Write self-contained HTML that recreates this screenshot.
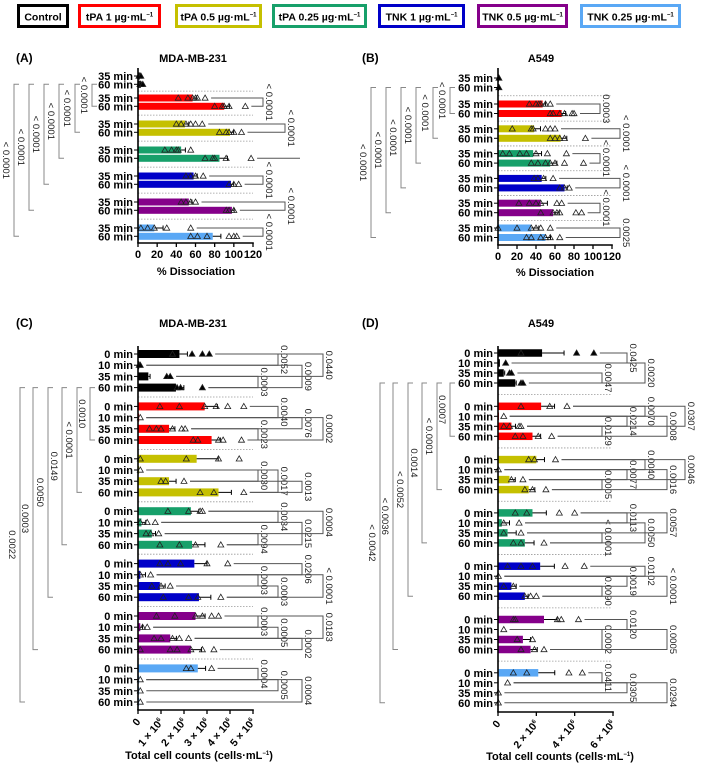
<!DOCTYPE html>
<html><head><meta charset="utf-8"><style>
html,body{margin:0;padding:0;background:#fff}
svg{display:block;font-family:"Liberation Sans",Arial,sans-serif}
</style></head><body>
<svg id="fig" width="709" height="766" viewBox="0 0 709 766" xmlns="http://www.w3.org/2000/svg"></svg>
<script>
// ---------- DATA ----------
const groupNames = ['Control','tPA 1','tPA 0.5','tPA 0.25','TNK 1','TNK 0.5','TNK 0.25'];
const groupColors = ['#000000','#ff0000','#c5c000','#17a06a','#0000c8','#85008a','#5aa8f5'];
const rowLabelsAB = ['35 min','60 min'];
const rowLabelsCD = ['0 min','10 min','35 min','60 min'];
const ticksAB = [0,20,40,60,80,100,120];
const ticksC = [0,1,2,3,4,5];
const ticksD = [0,2,4,6];

const aMeans = [[2,3],[57,90],[49,96],[45,85],[58,97],[53,98],[17,78]];
const aPoints = [
 [[1,2,3],[2,3,5]],
 [[42,52,57,60,62,70],[80,88,90,95,112]],
 [[40,45,50,55,60,67],[85,92,95,100,108]],
 [[28,35,40,42,55],[70,78,80,92,118]],
 [[50,55,60,68],[95,100,105]],
 [[45,50,55,60],[92,95,100]],
 [[3,10,17,30,55],[55,62,72,95,100,103]]];
const aLeftLabels = ['< 0.0001','< 0.0001','< 0.0001','< 0.0001','< 0.0001','< 0.0001'];
const aRight = [[1,0,1,0,'< 0.0001'],[2,0,1,1,'< 0.0001'],[3,1,1,2,''],[4,0,1,0,'< 0.0001'],[5,0,1,1,'< 0.0001'],[6,0,1,0,'< 0.0001']];

const bMeans = [[1,1],[47,67],[38,66],[37,55],[46,70],[45,58],[35,50]];
const bPoints = [
 [[1],[1]],
 [[33,40,43,45,50,55],[55,58,65,70,78,80]],
 [[15,35,37,50,55,60],[55,60,65,70,92]],
 [[5,12,23,30,40,52,72],[35,42,50,55,60,70,90]],
 [[38,42,48,58],[65,70,75]],
 [[22,33,40,45,62,67],[45,58,62,65,82,88]],
 [[0,20,35,40,45,55],[30,35,45,50,55,65]]];
const bLeftLabels = ['< 0.0001','< 0.0001','< 0.0001','< 0.0001','< 0.0001','< 0.0001'];
const bRight = [[1,0,1,0,'0.0003'],[2,0,1,1,'< 0.0001'],[3,0,1,0,'< 0.0001'],[4,0,1,1,'< 0.0001'],[5,0,1,0,'< 0.0001'],[6,0,1,1,'0.0025']];

const cMeans = [[1.8,0.05,0.45,1.65],[2.9,0.05,1.35,3.2],[2.55,0.05,1.35,3.5],[2.3,0.15,0.6,2.35],[2.45,0.1,0.95,2.65],[2.5,0.1,1.4,2.3],[2.6,0.05,0.05,0.05]];
const cPoints = [
 [[1.5,2.35,2.8,3.1],[0.05,0.1],[1.25,1.4],[1.7,1.85,2.8]],
 [[0.95,1.8,2.9,3.4,3.9,4.6],[0.1],[0.5,0.8,1.0,1.5,1.9,2.05],[2.4,2.6,3.5,3.7,4.5]],
 [[0.1,2.1,3.5,4.4],[0.1],[1.0,1.2,2.0],[2.7,3.3,4.6]],
 [[1.3,2.2,2.7,2.8],[0.1,0.4,0.75],[0.35,0.55,0.9],[0.95,1.8,2.5,3.6]],
 [[0.95,1.3,1.85,3.0,3.9],[0.1,0.55],[0.6,1.0,1.4],[1.1,2.2,2.6,3.6]],
 [[0.8,1.6,2.5,2.8,3.2,3.5],[0.2,0.4],[0.7,1.0,1.5,1.8,2.2],[0.1,1.4,1.7,2.3,2.8,3.3]],
 [[2.1,2.3,3.2],[0.1],[0.1],[0.1]]];
const cLeftLabels = ['0.0010','< 0.0001','0.0149','0.0050','0.0003','0.0022'];
const cRight = [
 [0,0,1,1,'0.0052'],[0,2,3,0,'0.0003'],[0,1,3,2,'0.0009'],[0,0,2,3,'0.0440'],
 [1,0,1,1,'0.0040'],[1,2,3,0,'0.0023'],[1,1,2,2,'0.0076'],[1,1,3,3,'0.0002'],
 [2,1,2,0,'0.0030'],[2,1,3,1,'0.0017'],[2,2,3,2,'0.0013'],
 [3,0,1,1,'0.0034'],[3,2,3,0,'0.0094'],[3,1,3,2,'0.0215'],[3,0,2,3,'0.0004'],
 [4,0,1,2,'0.0206'],[4,1,2,0,'0.0003'],[4,2,3,1,'0.0003'],[4,1,3,3,'< 0.0001'],
 [5,0,1,0,'0.0003'],[5,1,2,1,'0.0005'],[5,2,3,2,'0.0002'],[5,0,2,3,'0.0183'],
 [6,0,1,0,'0.0004'],[6,1,2,1,'0.0005'],[6,1,3,2,'0.0004']];

const dMeans = [[2.3,0.1,0.3,0.9],[2.25,0.05,0.7,1.8],[2.0,0.02,0.6,1.6],[1.8,0.2,0.5,1.4],[2.2,0.02,0.7,1.4],[2.4,0.02,1.3,1.7],[2.1,0.02,0.02,0.02]];
const dPoints = [
 [[1.2,4.1,5.0],[0.4],[0.6,0.7],[1.2,1.3]],
 [[1.2,2.7,3.6],[0.3],[0.3,0.6,1.1,1.2],[0.9,1.3,2.1,2.8]],
 [[1.6,1.9,3.0],[0.02],[0.7,1.3],[1.4,1.8,2.5]],
 [[0.9,1.5,3.2,4.0],[0.3,1.1],[0.3,1.2],[0.8,1.2,2.4]],
 [[0.5,1.2,1.8,3.5,4.5],[0.02],[0.3,0.8],[1.4,1.7,2.0]],
 [[0.8,0.9,3.1,3.3,4.2],[0.3],[1.0,1.8],[1.2,1.9,2.4]],
 [[0.8,1.5,3.7,4.4],[0.5],[0.02],[0.02]]];
const dLeftLabels = ['0.0007','< 0.0001','0.0014','< 0.0052','< 0.0036','< 0.0042'];
const dRight = [
 [0,0,1,1,'0.0425'],[0,2,3,0,'0.0047'],[0,1,3,2,'0.0020'],
 [1,2,3,0,'0.0129'],[1,1,2,1,'0.0214'],[1,0,1,2,'0.0070'],[1,1,3,3,'0.0008'],[1,0,2,4,'0.0307'],
 [2,2,3,0,'0.0005'],[2,1,2,1,'0.0077'],[2,0,1,2,'0.0040'],[2,1,3,3,'0.0016'],[2,0,2,4,'0.0046'],
 [3,2,3,0,'< 0.0001'],[3,0,1,1,'0.0113'],[3,1,3,2,'0.0050'],[3,0,2,3,'0.0057'],
 [4,2,3,0,'0.0090'],[4,1,2,1,'0.0019'],[4,0,1,2,'0.0102'],[4,1,3,3,'< 0.0001'],
 [5,1,3,0,'0.0002'],[5,0,1,1,'0.0120'],[5,1,3,3,'0.0005'],
 [6,0,1,0,'0.0411'],[6,1,2,1,'0.0305'],[6,1,3,3,'0.0294']];

// ---------- DRAWING ----------
const NS='http://www.w3.org/2000/svg';
const svg=document.getElementById('fig');
function el(tag,attrs,parent,txt){const e=document.createElementNS(NS,tag);for(const k in attrs)e.setAttribute(k,attrs[k]);if(txt!==undefined)e.textContent=txt;(parent||svg).appendChild(e);return e;}

// legend
const legendBoxes=[[17,52],[78,83],[175,87],[272,95],[378,87],[477,91],[580,101]];
const legendText=[['Control',''],['tPA 1 µg·mL','−1'],['tPA 0.5 µg·mL','−1'],['tPA 0.25 µg·mL','−1'],['TNK 1 µg·mL','−1'],['TNK 0.5 µg·mL','−1'],['TNK 0.25 µg·mL','−1']];
legendBoxes.forEach((b,i)=>{
  const g=el('g',{});
  
  
  el('rect',{x:b[0]+1.5,y:5.5,width:b[1]-3,height:21,fill:'#fff',stroke:groupColors[i],'stroke-width':3},g);
  const t=el('text',{x:b[0]+b[1]/2,y:20.5,'text-anchor':'middle','font-size':10.5,'font-weight':'bold'},g,legendText[i][0]);
  if(legendText[i][1]){el('tspan',{'font-size':6,dy:-4},t,legendText[i][1]);}
});

function semOf(p){if(p.length<2)return 0;const m=p.reduce((a,b)=>a+b,0)/p.length;const v=p.reduce((a,b)=>a+(b-m)*(b-m),0)/(p.length-1);return Math.sqrt(v/p.length);}

function panel(cfg){
  const G=el('g',{});
  
  
  const sx=v=>cfg.ax+v*cfg.k;
  const rowY=(g,r)=>cfg.rowY(g,r);
  el('text',{x:cfg.letterX,y:cfg.titleY,'font-size':12,'font-weight':'bold'},G,cfg.letter);
  const tt=el('text',{x:cfg.titleX,y:cfg.titleY,'text-anchor':'middle','font-size':11,'font-weight':'bold'},G,cfg.title);
  
  
  const nR=cfg.means[0].length;
  for(let g=1;g<7;g++){
    const y=(rowY(g-1,nR-1)+rowY(g,0))/2;
    el('line',{x1:cfg.ax,x2:cfg.sepEnd,y1:y,y2:y,stroke:'#999','stroke-width':0.8,'stroke-dasharray':'1.5,1.5'},G);
  }
  for(let g=0;g<7;g++){for(let r=0;r<nR;r++){
    const y=rowY(g,r),m=cfg.means[g][r];
    const bar=el('rect',{x:cfg.ax,y:y-cfg.bh/2,width:Math.max(0,sx(m)-cfg.ax),height:cfg.bh,fill:groupColors[g]},G);
    
    
    const pts=cfg.points[g][r];const se=semOf(pts);
    if(se>0){el('path',{d:`M${sx(m)} ${y}H${sx(m+se)}M${sx(m+se)} ${y-2.5}V${y+2.5}`,stroke:'#000','stroke-width':1,fill:'none'},G);}
    pts.forEach(p=>{const x=sx(p);
      el('path',{d:`M${x} ${y-3}L${x+3} ${y+2.2}L${x-3} ${y+2.2}Z`,fill:g===0?'#000':'none',stroke:'#222','stroke-width':0.8},G);});
    el('line',{x1:cfg.ax-4,x2:cfg.ax,y1:y,y2:y,stroke:'#000','stroke-width':1},G);
    el('text',{x:cfg.ax-5,y:y+4,'text-anchor':'end','font-size':11,'font-weight':'bold'},G,cfg.rows[r]);
  }}
  const yAx=el('line',{x1:cfg.ax,x2:cfg.ax,y1:cfg.axTop,y2:cfg.axBot,stroke:'#000','stroke-width':1.6},G);
  
  const xAx=el('line',{x1:cfg.ax-0.8,x2:sx(cfg.ticks[cfg.ticks.length-1])+0.8,y1:cfg.axBot,y2:cfg.axBot,stroke:'#000','stroke-width':1.6},G);
  
  cfg.ticks.forEach(t=>{const x=sx(t);
    el('line',{x1:x,x2:x,y1:cfg.axBot,y2:cfg.axBot+4,stroke:'#000','stroke-width':1.3},G);
    if(cfg.rot){
      const lt=el('text',{x:x+3,y:cfg.axBot+12,'text-anchor':'end','font-size':10.5,'font-weight':'bold',transform:`rotate(-50 ${x+3} ${cfg.axBot+12})`},G,t===0?'0':t+' × 10');
      if(t!==0)el('tspan',{'font-size':6,dy:-4},lt,'6');
    } else el('text',{x:x,y:cfg.axBot+15,'text-anchor':'middle','font-size':11,'font-weight':'bold'},G,String(t));
  });
  const xt=el('text',{x:cfg.xTitleX,y:cfg.xTitleY,'text-anchor':'middle','font-size':11,'font-weight':'bold'},G,cfg.xTitle);
  if(cfg.rot)el('tspan',{'font-size':6,dy:-4},xt,'−1');
  if(cfg.rot)el('tspan',{'font-size':11,dy:4},xt,')');
  
  const yTop=rowY(0,nR-1);
  for(let g=1;g<7;g++){
    const x=cfg.leftX[g-1],y2=rowY(g,nR-1);
    el('path',{d:`M${x+5} ${yTop}H${x}V${y2}H${x+5}`,stroke:'#888','stroke-width':1,fill:'none'},G);
    const lx=x-11,ly=(yTop+y2)/2;
    el('text',{x:lx,y:ly,'text-anchor':'middle','font-size':9.5,fill:'#222',transform:`rotate(90 ${lx} ${ly})`},G,cfg.leftLabels[g-1]);
  }
  cfg.right.forEach(b=>{
    const [g,r1,r2,c,lab]=b;const x=cfg.colX[c];
    const y1=rowY(g,r1),y2=rowY(g,r2);
    const s1=sx(Math.max(cfg.means[g][r1],...cfg.points[g][r1]))+6;
    const s2=sx(Math.max(cfg.means[g][r2],...cfg.points[g][r2]))+6;
    el('path',{d:`M${s1} ${y1}H${x}V${y2}H${s2}`,stroke:'#555','stroke-width':1,fill:'none'},G);
    if(lab){const lx=x+3,ly=(y1+y2)/2;
      el('text',{x:lx,y:ly,'text-anchor':'middle','font-size':9.5,fill:'#222',transform:`rotate(90 ${lx} ${ly})`},G,lab);}
  });
}

panel({name:'panel-a-chart',letter:'(A)',letterX:16,title:'MDA-MB-231',titleX:193,titleY:62,ax:138,k:115/120,
  means:aMeans,points:aPoints,rows:rowLabelsAB,ticks:ticksAB,rot:false,bh:7,
  rowY:(g,r)=>(g===0?76:98+(g-1)*26)+r*8.3,axTop:68,axBot:243,sepEnd:253,
  xTitle:'% Dissociation',xTitleX:196,xTitleY:275,
  leftX:[92,75,59,44,29,14],leftLabels:aLeftLabels,colX:[263,285,300],right:aRight});
panel({name:'panel-b-chart',letter:'(B)',letterX:362,title:'A549',titleX:541,titleY:62,ax:498,k:114/120,
  means:bMeans,points:bPoints,rows:rowLabelsAB,ticks:ticksAB,rot:false,bh:7,
  rowY:(g,r)=>(g===0?78:104+(g-1)*24.8)+r*9.5,axTop:68,axBot:245,sepEnd:612,
  xTitle:'% Dissociation',xTitleX:555,xTitleY:276,
  leftX:[450,433,416,401,386,371],leftLabels:bLeftLabels,colX:[600,620],right:bRight});
panel({name:'panel-c-chart',letter:'(C)',letterX:16,title:'MDA-MB-231',titleX:193,titleY:327,ax:138,k:115/5,
  means:cMeans,points:cPoints,rows:rowLabelsCD,ticks:ticksC,rot:true,bh:8,
  rowY:(g,r)=>354+g*52.4+r*11.2,axTop:346,axBot:710,sepEnd:253,
  xTitle:'Total cell counts (cells·mL',xTitleX:199,xTitleY:759,
  leftX:[90,77,62,48,33,20],leftLabels:cLeftLabels,colX:[258,278,302,323],right:cRight});
panel({name:'panel-d-chart',letter:'(D)',letterX:362,title:'A549',titleX:541,titleY:327,ax:498,k:115/6,
  means:dMeans,points:dPoints,rows:rowLabelsCD,ticks:ticksD,rot:true,bh:7.5,
  rowY:(g,r)=>353+g*53.3+r*10,axTop:346,axBot:712,sepEnd:612,
  xTitle:'Total cell counts (cells·mL',xTitleX:560,xTitleY:760,
  leftX:[450,437,422,408,393,380],leftLabels:dLeftLabels,colX:[602,627,645,667,685],right:dRight});
</script>
</body></html>
